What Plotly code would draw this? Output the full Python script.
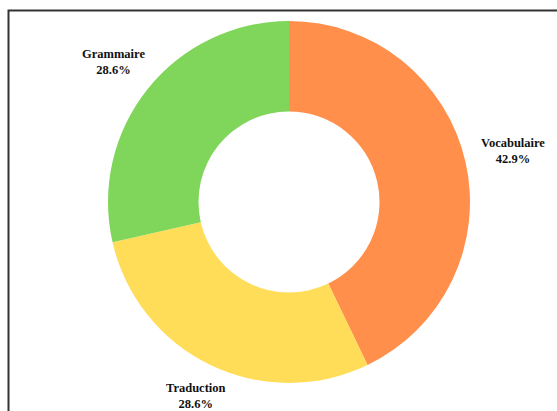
import math
import plotly.graph_objects as go

labels = ["Vocabulaire", "Traduction", "Grammaire"]
values = [3, 2, 2]
colors = ["#FF8F4A", "#FFDD59", "#7FD65A"]

W, H = 557, 411
cx, cy, r = 289, 202, 181
FONT = "Liberation Serif, Times New Roman, serif"

fig = go.Figure(go.Pie(
    labels=labels,
    values=values,
    hole=0.5,
    sort=False,
    direction="clockwise",
    rotation=0,
    marker=dict(colors=colors, line=dict(width=0)),
    textinfo="none",
    showlegend=False,
    domain=dict(x=[(cx - r) / W, (cx + r) / W], y=[1 - (cy + r) / H, 1 - (cy - r) / H]),
    hoverinfo="label+percent",
))

# outside labels placed radially at each slice's mid-angle
total = sum(values)
acc = 0
for lab, v in zip(labels, values):
    mid = (acc + v / 2) / total * 2 * math.pi  # clockwise from top
    acc += v
    ux, uy = math.sin(mid), -math.cos(mid)  # screen direction (y down)
    hw = len(lab) * 3.3
    hh = 20
    ext = min(hw / max(abs(ux), 1e-6), hh / max(abs(uy), 1e-6))
    d = r + 12 + ext
    px, py = cx + ux * d, cy + uy * d
    pct = v / total * 100
    fig.add_annotation(
        x=px / W, y=1 - py / H, xref="paper", yref="paper",
        text=f"<b>{lab}</b><br><b>{pct:.1f}%</b>",
        showarrow=False, xanchor="center", yanchor="middle",
        font=dict(family=FONT, size=12.5, color="#111111"),
    )

fig.add_shape(type="rect", xref="paper", yref="paper",
              x0=8.5 / W, x1=1.2, y0=-0.2, y1=1 - 10.5 / H,
              line=dict(color="#333333", width=2), fillcolor="rgba(0,0,0,0)")

fig.update_layout(
    width=W, height=H,
    margin=dict(l=0, r=0, t=0, b=0),
    paper_bgcolor="white",
    plot_bgcolor="white",
)

fig.write_html("out.html")
